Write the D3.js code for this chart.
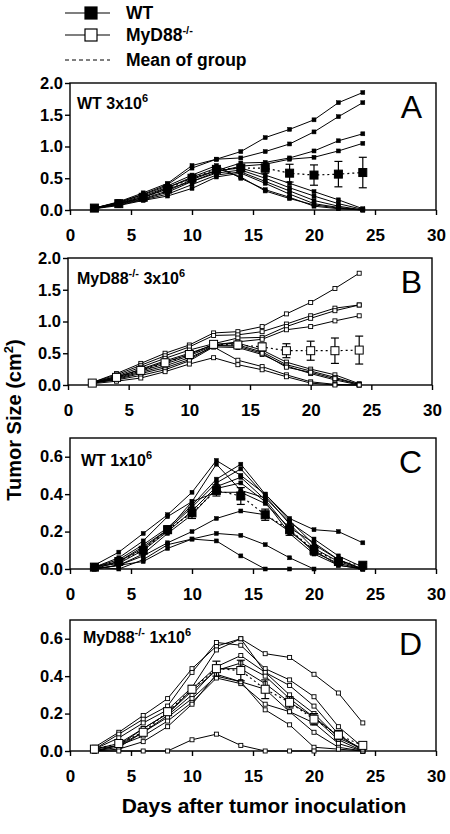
<!DOCTYPE html>
<html><head><meta charset="utf-8">
<script src="https://cdn.jsdelivr.net/npm/d3@7/dist/d3.min.js"></script>
<style>body{margin:0;background:#fff}svg{font-family:Arial,"Liberation Sans",Helvetica,sans-serif}</style>
</head><body><svg id="c" width="450" height="834"></svg>
<script>
// ---------- data ----------
const days = [2,4,6,8,10,12,14,16,18,20,22,24];
const xTicks = [0,5,10,15,20,25,30];
const yTicksLarge = [0,0.5,1.0,1.5,2.0];
const yTicksSmall = [0,0.2,0.4,0.6];

const miceA = [
 [0.03,0.13,0.27,0.42,0.70,0.80,0.92,1.14,1.27,1.42,1.69,1.85],
 [0.03,0.12,0.25,0.40,0.66,0.80,0.82,0.92,1.04,1.23,1.47,1.69],
 [0.03,0.11,0.22,0.36,0.50,0.62,0.74,0.75,0.82,0.93,1.09,1.20],
 [0.02,0.10,0.20,0.33,0.45,0.60,0.69,0.72,0.80,0.83,0.93,1.05],
 [0.03,0.10,0.18,0.30,0.48,0.62,0.66,0.55,0.42,0.29,0.16,0.02],
 [0.02,0.09,0.17,0.28,0.45,0.58,0.63,0.50,0.35,0.22,0.10,0.01],
 [0.03,0.08,0.16,0.25,0.40,0.55,0.60,0.45,0.30,0.15,0.06,0.00],
 [0.02,0.07,0.15,0.22,0.34,0.52,0.58,0.42,0.25,0.10,0.04,0.00],
 [0.03,0.12,0.24,0.38,0.55,0.70,0.50,0.32,0.20,0.06,0.02,0.00],
 [0.02,0.10,0.20,0.35,0.52,0.66,0.52,0.30,0.18,0.08,0.03,0.00]
];
const meanA = [0.03,0.10,0.20,0.33,0.50,0.64,0.66,0.66,0.58,0.55,0.565,0.59];
const errA  = [0.005,0.01,0.015,0.02,0.04,0.03,0.04,0.08,0.14,0.16,0.20,0.24];

const miceB = [
 [0.04,0.18,0.34,0.50,0.63,0.82,0.84,0.92,1.12,1.30,1.52,1.76],
 [0.04,0.16,0.31,0.46,0.60,0.78,0.79,0.84,0.96,1.09,1.21,1.26],
 [0.03,0.14,0.28,0.42,0.55,0.65,0.74,0.75,0.92,1.05,1.17,1.26],
 [0.03,0.12,0.25,0.38,0.50,0.63,0.68,0.72,0.87,0.92,1.01,1.09],
 [0.04,0.13,0.24,0.36,0.48,0.64,0.66,0.55,0.36,0.25,0.16,0.02],
 [0.03,0.11,0.22,0.33,0.46,0.62,0.63,0.52,0.32,0.22,0.12,0.01],
 [0.03,0.10,0.20,0.30,0.43,0.60,0.59,0.48,0.30,0.18,0.08,0.00],
 [0.03,0.09,0.18,0.27,0.40,0.62,0.61,0.50,0.28,0.20,0.10,0.01],
 [0.03,0.08,0.15,0.24,0.38,0.60,0.39,0.29,0.16,0.05,0.01,0.00],
 [0.02,0.06,0.11,0.21,0.33,0.43,0.32,0.24,0.13,0.03,0.00,0.00]
];
const meanB = [0.03,0.12,0.23,0.35,0.48,0.64,0.63,0.60,0.54,0.54,0.54,0.55];
const errB  = [0.005,0.01,0.02,0.02,0.03,0.03,0.04,0.06,0.11,0.15,0.20,0.22];

const miceC = [
 [0.02,0.09,0.19,0.29,0.41,0.58,0.50,0.40,0.27,0.21,0.20,0.14],
 [0.01,0.06,0.15,0.28,0.36,0.56,0.42,0.38,0.25,0.16,0.07,0.01],
 [0.01,0.05,0.13,0.22,0.34,0.48,0.56,0.40,0.26,0.13,0.05,0.00],
 [0.00,0.04,0.11,0.21,0.33,0.46,0.535,0.39,0.24,0.11,0.04,0.00],
 [0.01,0.03,0.10,0.20,0.31,0.44,0.49,0.37,0.21,0.09,0.03,0.00],
 [0.00,0.02,0.08,0.19,0.29,0.43,0.46,0.36,0.19,0.08,0.02,0.00],
 [0.01,0.04,0.12,0.21,0.36,0.41,0.41,0.35,0.22,0.14,0.05,0.00],
 [0.00,0.02,0.07,0.14,0.20,0.27,0.31,0.29,0.20,0.10,0.02,0.00],
 [0.01,0.00,0.05,0.13,0.16,0.19,0.18,0.13,0.06,0.00,null,null],
 [0.00,0.02,0.04,0.11,0.16,0.15,0.07,0.00,0.00,null,null,null]
];
const meanC = [0.01,0.04,0.10,0.21,0.30,0.42,0.39,0.29,0.21,0.10,0.04,0.02];
const errC  = [0.003,0.01,0.015,0.02,0.03,0.03,0.045,0.03,0.03,0.025,0.02,0.01];

const miceD = [
 [0.02,0.10,0.19,0.28,0.44,0.56,0.60,0.52,0.50,0.41,0.31,0.15],
 [0.01,0.09,0.17,0.24,0.42,0.58,0.565,0.44,0.38,0.29,0.13,0.02],
 [0.01,0.07,0.15,0.22,0.34,0.54,0.60,0.42,0.35,0.24,0.09,0.00],
 [0.01,0.04,0.12,0.20,0.33,0.45,0.51,0.42,0.30,0.20,0.07,0.01],
 [0.00,0.03,0.10,0.19,0.30,0.44,0.44,0.36,0.26,0.18,0.06,0.00],
 [0.00,0.02,0.10,0.18,0.28,0.40,0.37,0.33,0.21,0.15,0.04,0.00],
 [0.01,0.03,0.08,0.16,0.26,0.39,0.36,0.25,0.21,0.10,0.02,0.00],
 [0.00,0.01,0.05,0.13,0.25,0.41,0.37,0.22,0.14,0.02,0.01,0.00],
 [0.00,0.00,0.00,0.00,0.06,0.09,0.03,0.00,0.00,0.00,null,null],
 [0.00,0.03,0.12,0.20,0.32,0.43,0.47,0.40,0.28,0.18,0.08,0.01]
];
const meanD = [0.01,0.04,0.10,0.21,0.33,0.44,0.43,0.33,0.26,0.17,0.085,0.03];
const errD  = [0.003,0.01,0.015,0.02,0.02,0.04,0.055,0.05,0.03,0.03,0.025,0.01];

const panelLetters = ["A","B","C","D"];
const groupNames = ["WT","MyD88","WT","MyD88"];
const doses = ["3x10","3x10","1x10","1x10"];
const legendLabels = ["WT","MyD88","Mean of group"];

// ---------- layout ----------
const svg = d3.select("#c");
const panels = [
 {mice:miceA, mean:meanA, err:errA, filled:true,  yMax:2.0, yTicks:yTicksLarge, fmt:".1f", l:70, r:436, t:83,  b:210, lx:77, ly:26},
 {mice:miceB, mean:meanB, err:errB, filled:false, yMax:2.0, yTicks:yTicksLarge, fmt:".1f", l:68, r:432, t:258, b:385, lx:77, ly:26},
 {mice:miceC, mean:meanC, err:errC, filled:true,  yMax:0.7, yTicks:yTicksSmall, fmt:".1f", l:70, r:436, t:438, b:569, lx:81, ly:28},
 {mice:miceD, mean:meanD, err:errD, filled:false, yMax:0.7, yTicks:yTicksSmall, fmt:".1f", l:70, r:436, t:620, b:751, lx:83, ly:23}
];

function supText(sel, parts, size, supSize){
  // parts: array of [text, isSup]
  parts.forEach(([t,s],i)=>{
    const prevSup = i>0 && parts[i-1][1];
    const ts = sel.append("tspan").text(t).attr("font-size", s?supSize:size);
    if(s) ts.attr("dy",-size*0.42);
    else if(prevSup) ts.attr("dy",size*0.42);
  });
}

panels.forEach((p,i)=>{
  const x = d3.scaleLinear().domain([0,30]).range([p.l,p.r]);
  const y = d3.scaleLinear().domain([0,p.yMax]).range([p.b,p.t]);
  const g = svg.append("g");

  // frame
  g.append("rect").attr("x",p.l).attr("y",p.t).attr("width",p.r-p.l).attr("height",p.b-p.t)
   .attr("fill","none").attr("stroke","#000").attr("stroke-width",1.4);

  // axes
  const xa = g.append("g").attr("transform",`translate(0,${p.b})`)
    .call(d3.axisBottom(x).tickValues(xTicks).tickSize(5).tickPadding(14).tickFormat(d3.format("d")));
  const ya = g.append("g").attr("transform",`translate(${p.l},0)`)
    .call(d3.axisLeft(y).tickValues(p.yTicks).tickSize(5).tickPadding(2).tickFormat(d3.format(p.fmt)));
  [xa,ya].forEach(a=>{
    a.select(".domain").remove();
    a.selectAll("line").attr("stroke","#000").attr("stroke-width",1.4);
    a.selectAll("text").attr("fill","#000").attr("font-weight","bold").attr("font-family","Arial, 'Liberation Sans', sans-serif");
  });
  xa.selectAll("text").attr("font-size",17);
  ya.selectAll("text").attr("font-size",16.5);

  const line = d3.line().defined(d=>d[1]!=null).x(d=>x(d[0])).y(d=>y(d[1]));

  // individual mice
  p.mice.forEach(m=>{
    const pts = days.map((d,k)=>[d,m[k]]);
    g.append("path").attr("d",line(pts)).attr("fill","none").attr("stroke","#000").attr("stroke-width",1);
    const ms = 4;
    g.selectAll(null).data(pts.filter(q=>q[1]!=null)).enter().append("rect")
      .attr("x",q=>x(q[0])-ms/2).attr("y",q=>y(q[1])-ms/2).attr("width",ms).attr("height",ms)
      .attr("fill",p.filled?"#000":"#fff").attr("stroke","#000").attr("stroke-width",p.filled?0.5:0.9);
  });

  // mean line
  const mpts = days.map((d,k)=>[d,p.mean[k],p.err[k]]);
  g.append("path").attr("d",line(mpts)).attr("fill","none").attr("stroke","#000")
   .attr("stroke-width",1.2).attr("stroke-dasharray","2,3");
  // error bars
  mpts.forEach(q=>{
    const y1=y(q[1]+q[2]), y0=y(Math.max(0,q[1]-q[2])), cx=x(q[0]);
    g.append("line").attr("x1",cx).attr("x2",cx).attr("y1",y1).attr("y2",y0).attr("stroke","#000").attr("stroke-width",1.2);
    [y1,y0].forEach(yy=>g.append("line").attr("x1",cx-4).attr("x2",cx+4).attr("y1",yy).attr("y2",yy).attr("stroke","#000").attr("stroke-width",1.2));
  });
  const M=8;
  g.selectAll(null).data(mpts).enter().append("rect")
    .attr("x",q=>x(q[0])-M/2).attr("y",q=>y(q[1])-M/2).attr("width",M).attr("height",M)
    .attr("fill",p.filled?"#000":"#fff").attr("stroke","#000").attr("stroke-width",1);

  // panel label
  const lab = g.append("text").attr("x",p.lx).attr("y",p.t+p.ly).attr("font-weight","bold").attr("font-size",16);
  if(groupNames[i]==="WT") supText(lab,[[groupNames[i]+" "+doses[i],false],["6",true]],16,11);
  else supText(lab,[[groupNames[i],false],["-/-",true],[" "+doses[i],false],["6",true]],16,11);

  // panel letter
  g.append("text").attr("x",422).attr("y",p.t+35).attr("text-anchor","end")
   .attr("font-size",32).text(panelLetters[i]);
});

// axis titles
const yt = svg.append("text").attr("transform","translate(21,420) rotate(-90)").attr("text-anchor","middle")
  .attr("font-weight","bold").attr("font-size",20);
supText(yt,[["Tumor Size (cm",false],["2",true],[")",false]],20,13);
svg.append("text").attr("x",264).attr("y",813).attr("text-anchor","middle").attr("font-weight","bold")
  .attr("font-size",21).text("Days after tumor inoculation");

// legend
const leg = svg.append("g");
const rows=[13,35,60];
rows.forEach((ry,k)=>{
  if(k<2){
    leg.append("line").attr("x1",65).attr("x2",110).attr("y1",ry).attr("y2",ry).attr("stroke","#000").attr("stroke-width",1.2);
    leg.append("rect").attr("x",85).attr("y",ry-6).attr("width",12).attr("height",12)
      .attr("fill",k===0?"#000":"#fff").attr("stroke","#000").attr("stroke-width",1.2);
  } else {
    leg.append("line").attr("x1",65).attr("x2",110).attr("y1",ry).attr("y2",ry).attr("stroke","#000")
      .attr("stroke-width",1).attr("stroke-dasharray","4,3");
  }
  const t = leg.append("text").attr("x",126).attr("y",ry+6).attr("font-weight","bold").attr("font-size",17.5);
  if(k===1) supText(t,[[legendLabels[k],false],["-/-",true]],17.5,11);
  else t.text(legendLabels[k]);
});
</script></body></html>
